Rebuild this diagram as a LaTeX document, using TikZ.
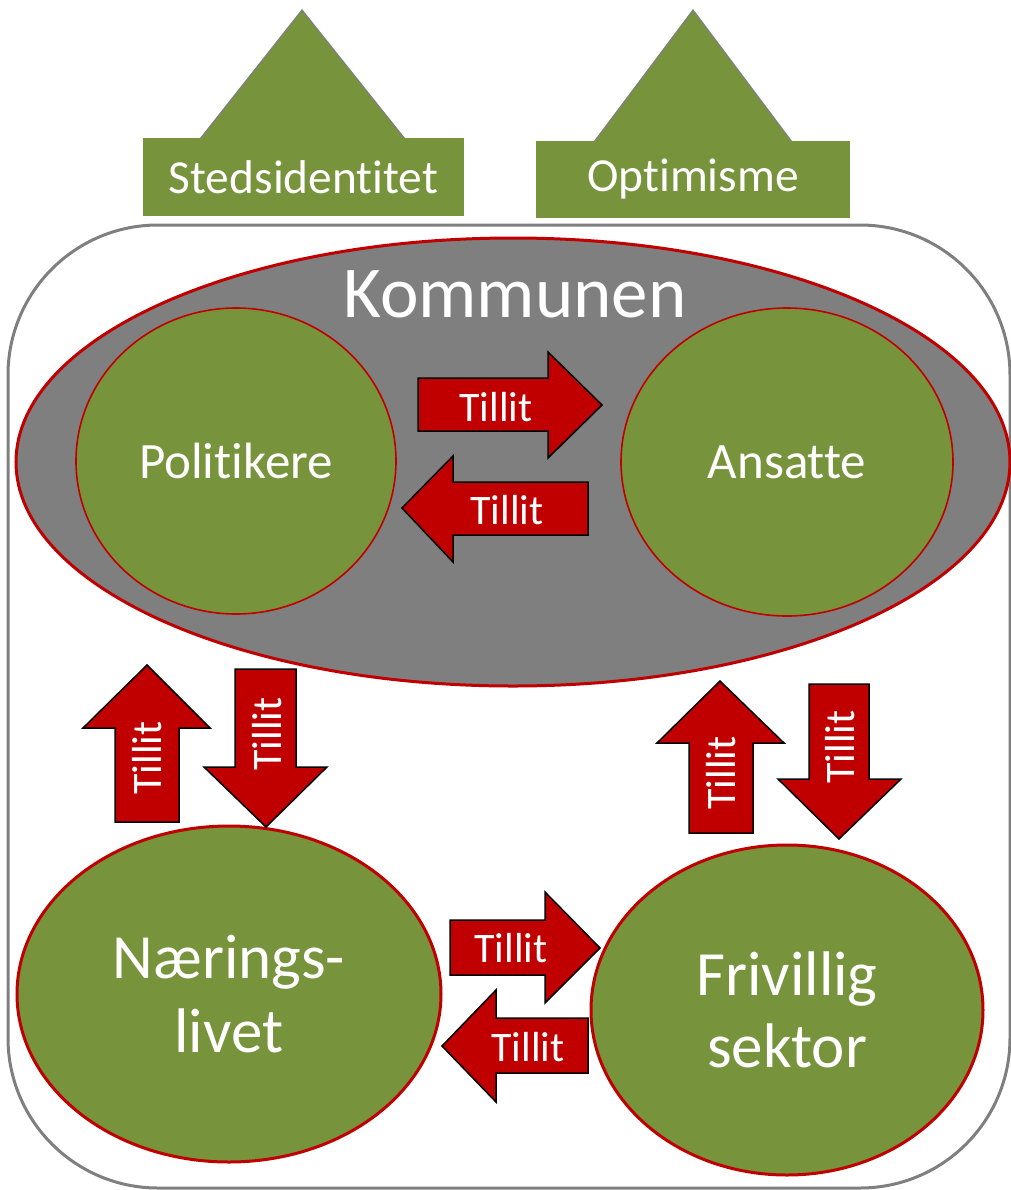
\documentclass[tikz,border=0pt]{standalone}
\usepackage{fontspec}
\setmainfont[Ligatures=NoCommon]{Carlito}
\usetikzlibrary{shapes.geometric}

\definecolor{gronn}{HTML}{77933C}
\definecolor{rod}{HTML}{C00000}
\definecolor{gra}{HTML}{7F7F7F}

\tikzset{
  sirkel/.style={ellipse, draw=rod, fill=gronn, inner sep=0pt, text=white, align=center},
  pil/.style={draw=black, fill=rod, line width=.75pt, line join=miter},
  tillit/.style={text=white, inner sep=0pt, font=\fontsize{21}{25}\selectfont},
  tak/.style={fill=gronn, draw=gra, line width=.6pt},
  skilt/.style={fill=gronn, text=white, inner sep=0pt, font=\fontsize{23.7}{28}\selectfont}
}

\begin{document}
\begin{tikzpicture}[x=.5pt, y=-.5pt]
  \useasboundingbox (0,0) rectangle (1011,1190);

  % rammen
  \draw[gra, line width=1.5pt, rounded corners=75pt] (8,225) rectangle (1010,1188);

  % kommunen
  \node[ellipse, draw=rod, fill=gra, line width=1.5pt, inner sep=0pt,
        minimum width=497pt, minimum height=224pt] (kommunen) at (513,462) {};
  \node[text=white, font=\fontsize{36.5}{40}\selectfont] (kommtekst) at (515,294) {Kommunen};
  \node[sirkel, line width=.8pt, minimum width=160pt, minimum height=153pt,
        font=\fontsize{25.5}{30}\selectfont] (politikere) at (236,461) {Politikere};
  \node[sirkel, line width=.8pt, minimum width=166pt, minimum height=154pt,
        font=\fontsize{25.5}{30}\selectfont] (ansatte) at (787,462) {Ansatte};

  % naeringsliv og frivillige
  \node[sirkel, line width=1.5pt, minimum width=212pt, minimum height=168pt,
        font=\fontsize{31.5}{37}\selectfont] (naering) at (229,994) {Nærings-\\livet};
  \node[sirkel, line width=1.5pt, minimum width=196pt, minimum height=165pt,
        font=\fontsize{31.5}{36}\selectfont] (frivillig) at (787,1010) {Frivillig\\sektor};

  % tillit-piler
  \draw[pil] (418,378)--(548,378)--(548,352)--(602,405)--(548,458)--(548,431)--(418,431)--cycle;
  \node[tillit] (t1) at (496,407) {Tillit};
  \draw[pil] (588,482)--(453,482)--(453,456)--(402,508)--(453,562)--(453,535)--(588,535)--cycle;
  \node[tillit] (t2) at (507,510) {Tillit};
  \draw[pil] (115,822)--(115,728)--(83,728)--(147,665)--(210,728)--(179,728)--(179,822)--cycle;
  \node[tillit, rotate=90] (t3) at (147,758) {Tillit};
  \draw[pil] (235,669)--(296,669)--(296,767)--(327,767)--(266,827)--(204,767)--(235,767)--cycle;
  \node[tillit, rotate=90] (t4) at (267,734) {Tillit};
  \draw[pil] (689,833)--(689,743)--(657,743)--(720,681)--(784,743)--(753,743)--(753,833)--cycle;
  \node[tillit, rotate=90] (t5) at (721,773) {Tillit};
  \draw[pil] (809,684)--(869,684)--(869,779)--(901,779)--(839,839)--(778,779)--(809,779)--cycle;
  \node[tillit, rotate=90] (t6) at (840,747) {Tillit};
  \draw[pil] (450,920)--(545,920)--(545,892)--(600,948)--(545,1003)--(545,975)--(450,975)--cycle;
  \node[tillit] (t7) at (511,948) {Tillit};
  \draw[pil] (588,1018)--(496,1018)--(496,990)--(442,1046)--(496,1102)--(496,1073)--(588,1073)--cycle;
  \node[tillit] (t8) at (528,1047) {Tillit};

  % husene
  \draw[tak] (200,139)--(302,10)--(405,139);
  \node[skilt, minimum width=160.5pt, minimum height=39pt] (sted) at (303.5,177) {Stedsidentitet};
  \draw[tak] (594,142)--(693,10)--(792,142);
  \node[skilt, minimum width=157pt, minimum height=38.5pt] (optimisme) at (693,179.5) {Optimisme};

\end{tikzpicture}
\end{document}
